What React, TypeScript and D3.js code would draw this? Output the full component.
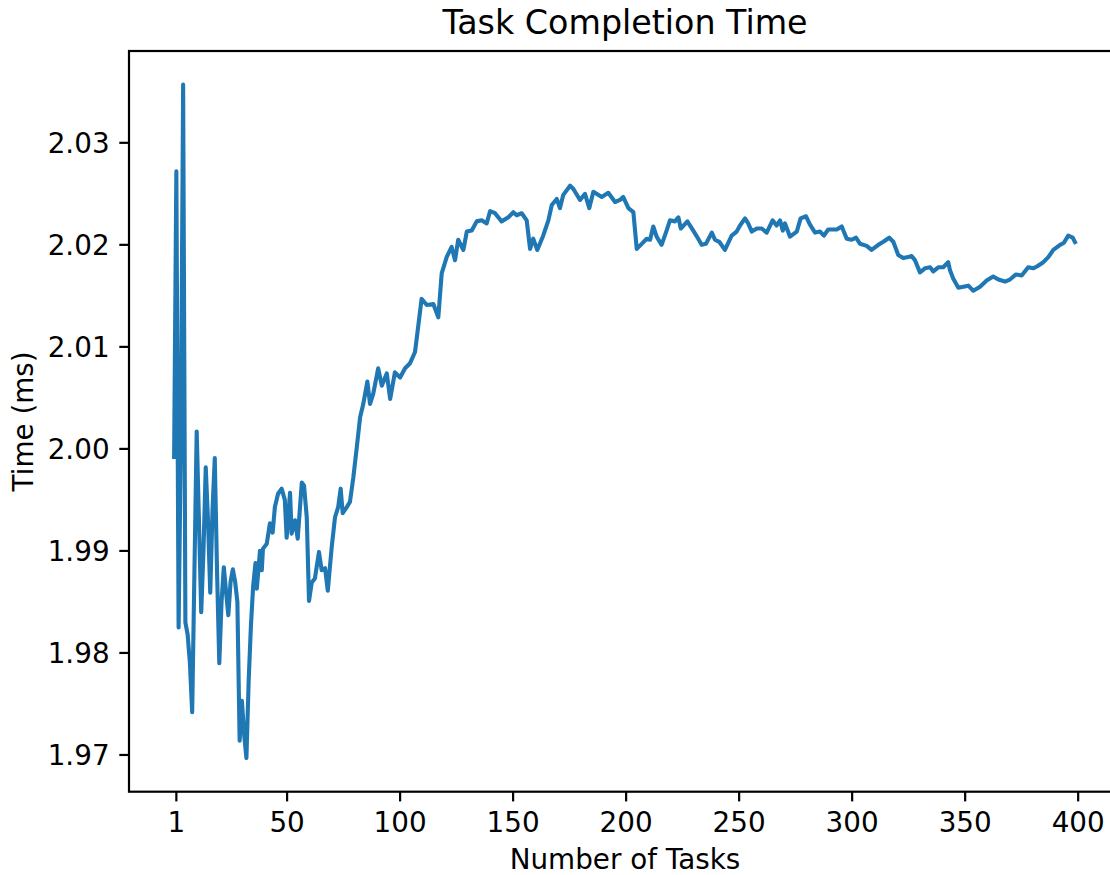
import React from "react";
import * as d3 from "d3";

// Task index (0-based) of each sampled point along the curve
const taskIndex: number[] = [
  0, 1, 2, 3, 4, 5, 6, 7, 8, 9, 10, 11, 12, 13, 14, 15, 16, 17, 18, 19,
  20, 21, 22, 23, 24, 25, 26, 27, 28, 29, 30, 31, 32, 33, 34, 35,
  36, 36.6, 38, 38.8, 39.3, 41, 42.4, 43.6, 44.6, 46, 47.6, 49, 49.8, 51.3,
  52, 53.5, 54.7, 56.5, 57.5, 58.7, 59.7, 60.9, 62.3, 64.1, 65.3, 66.8, 68,
  69.7, 71.2, 72.6, 73.7, 74.6, 76.4, 77.8, 79.3, 80.8, 82.3, 83.7, 85.5,
  86.7, 88.1, 90.3, 91.9, 94.1, 95.6, 97.7, 100, 102.2, 104.4, 106.6, 108,
  109.5, 111.8, 114.7, 116.9, 118.4, 120.6, 122.8, 124.3, 125.7, 128, 129.5,
  131.7, 133.9, 136.1, 138.3, 139.8, 142, 144.9, 147.9, 150.1, 151.6, 153.8,
  156, 157.5, 158.9, 160.7, 163.3, 165.6, 167.1, 169.3, 170.7, 172.2, 175.2,
  176.6, 179.6, 181.8, 183.7, 185.5, 189.2, 192.1, 195.1, 197.3, 198.7, 201,
  203.2, 204.7, 206.9, 209.1, 210.6, 212, 213.5, 215.7, 217.9, 219.4, 221.6,
  223.1, 224.2, 227.1, 229.7, 231.9, 233.4, 235.3, 237.9, 239.3, 241.2, 243.7,
  246.7, 248.9, 250.4, 252.6, 254, 255.6, 257.8, 260, 262.2, 264.8, 266.6,
  268.1, 269.3, 270.3, 272.5, 275.5, 277.2, 279.6, 281.3, 283.6, 285.8, 287.5,
  289.4, 293.2, 295.4, 297.6, 299.8, 301.7, 303.5, 306.4, 308.6, 311.6, 313.8,
  316.4, 318.2, 320.4, 322.6, 324.8, 326.3, 327.8, 330, 332.2, 334.5, 335.9,
  338.1, 340.3, 342.5, 343.3, 344.7, 347, 349.2, 351.4, 353.6, 356.6, 359.5,
  362.4, 364.7, 367.6, 369.8, 372.5, 375, 377.9, 380.1, 381.9, 384.6, 386.8,
  389, 392, 393.7, 395.6, 397.6, 399,
];

// Completion time (ms) at each task index above
const timeMs: number[] = [
  1.999, 2.0272, 1.9825, 2.001, 2.0357, 1.983, 1.9818, 1.979, 1.9742, 1.988,
  2.0017, 1.993, 1.984, 1.99, 1.9982, 1.993, 1.9859, 1.994, 1.9991, 1.988,
  1.979, 1.985, 1.9884, 1.986, 1.9837, 1.987, 1.9882, 1.987, 1.985, 1.9714,
  1.9753, 1.972, 1.9697, 1.9773, 1.9827, 1.9866,
  1.9888, 1.9863, 1.99, 1.9881, 1.9902, 1.9907, 1.9927, 1.9918, 1.9943, 1.9956,
  1.9961, 1.995, 1.9913, 1.9957, 1.9917, 1.993, 1.9912, 1.9967, 1.9964,
  1.9933, 1.9851, 1.9869, 1.9873, 1.9899, 1.9881, 1.9883, 1.9861, 1.9903,
  1.9933, 1.9943, 1.9961, 1.9937, 1.9943, 1.9948, 1.9972, 2.0001, 2.0031,
  2.0044, 2.0066, 2.0044, 2.0054, 2.0079, 2.0062, 2.0074, 2.0049, 2.0075,
  2.007, 2.0079, 2.0084, 2.0095, 2.012, 2.0147, 2.0141, 2.0142, 2.0129,
  2.0172, 2.0188, 2.0198, 2.0185, 2.0205, 2.0195, 2.0213, 2.0214, 2.0223,
  2.0224, 2.0221, 2.0233, 2.0231, 2.0223, 2.0227, 2.0232, 2.0229, 2.0231,
  2.0224, 2.0196, 2.0206, 2.0195, 2.0209, 2.0224, 2.0239, 2.0245, 2.0236,
  2.0249, 2.0258, 2.0255, 2.0244, 2.025, 2.0236, 2.0252, 2.0247, 2.0251,
  2.0242, 2.0244, 2.0247, 2.0236, 2.0232, 2.0196, 2.0201, 2.0206, 2.0205,
  2.0218, 2.0208, 2.02, 2.0214, 2.0224, 2.0223, 2.0227, 2.0216, 2.0223,
  2.0214, 2.0206, 2.02, 2.0201, 2.0212, 2.0205, 2.0203, 2.0195, 2.0209,
  2.0213, 2.0219, 2.0226, 2.0221, 2.0213, 2.0216, 2.0216, 2.0212, 2.0224,
  2.0219, 2.0224, 2.0214, 2.0221, 2.0208, 2.0213, 2.0226, 2.0228, 2.022,
  2.0212, 2.0213, 2.0209, 2.0215, 2.0215, 2.0218, 2.0206, 2.0205, 2.0207,
  2.0201, 2.0199, 2.0195, 2.02, 2.0203, 2.0207, 2.0203, 2.019, 2.0187,
  2.0188, 2.0189, 2.0185, 2.0173, 2.0177, 2.0178, 2.0174, 2.0178, 2.0178,
  2.0183, 2.0175, 2.0167, 2.0158, 2.0159, 2.016, 2.0155, 2.0159, 2.0165,
  2.0169, 2.0166, 2.0164, 2.0166, 2.0171, 2.017, 2.0178, 2.0177, 2.0179,
  2.0183, 2.0188, 2.0195, 2.02, 2.0202, 2.0209, 2.0207, 2.0201,
];

const xTicks: number[] = [1, 50, 100, 150, 200, 250, 300, 350, 400];
const yTicks: number[] = [1.97, 1.98, 1.99, 2.0, 2.01, 2.02, 2.03];

const titleText = "Task Completion Time";
const xLabelText = "Number of Tasks";
const yLabelText = "Time (ms)";

const W = 1110;
const H = 875;
const plot = { left: 129, right: 1121, top: 51, bottom: 791.7 };
const FONT = "'DejaVu Sans', sans-serif";
const TEXT = "#000";
const LINE = "#1f77b4";
const TICK_LEN = 9.7;
const TICK_PAD = 9.7;

export default function App() {
  const points = taskIndex.map((t, i) => ({ t, v: timeMs[i] }));
  const [vMin, vMax] = d3.extent(timeMs) as [number, number];
  const [tMin, tMax] = d3.extent(taskIndex) as [number, number];
  const xPad = (tMax - tMin) * 0.05;
  const yPad = (vMax - vMin) * 0.05;

  const x = d3
    .scaleLinear()
    .domain([tMin - xPad, tMax + xPad])
    .range([plot.left, plot.right]);
  const y = d3
    .scaleLinear()
    .domain([vMin - yPad, vMax + yPad])
    .range([plot.bottom, plot.top]);

  const path = d3
    .line<{ t: number; v: number }>()
    .x((d) => x(d.t))
    .y((d) => y(d.v))(points) as string;

  const cx = (plot.left + plot.right) / 2;
  const cy = (plot.top + plot.bottom) / 2;

  return (
    <svg
      width={W}
      height={H}
      viewBox={`0 0 ${W} ${H}`}
      style={{ position: "absolute", left: 0, top: 0, display: "block", background: "#fff" }}
    >
      <rect x={0} y={0} width={W} height={H} fill="#fff" />
      <defs>
        <clipPath id="plot-area">
          <rect
            x={plot.left}
            y={plot.top}
            width={plot.right - plot.left}
            height={plot.bottom - plot.top}
          />
        </clipPath>
      </defs>

      <path
        d={path}
        fill="none"
        stroke={LINE}
        strokeWidth={4.1}
        strokeLinejoin="round"
        strokeLinecap="butt"
        clipPath="url(#plot-area)"
      />

      {/* frame */}
      <rect
        x={plot.left}
        y={plot.top}
        width={plot.right - plot.left}
        height={plot.bottom - plot.top}
        fill="none"
        stroke={TEXT}
        strokeWidth={2.2}
      />

      {/* x axis ticks */}
      {xTicks.map((t) => (
        <g key={`x${t}`}>
          <line
            x1={x(t)}
            x2={x(t)}
            y1={plot.bottom}
            y2={plot.bottom + TICK_LEN}
            stroke={TEXT}
            strokeWidth={2.2}
          />
          <text
            x={x(t)}
            y={plot.bottom + TICK_LEN + TICK_PAD + 21}
            textAnchor="middle"
            fontFamily={FONT}
            fontSize={27.8}
            fill={TEXT}
          >
            {t}
          </text>
        </g>
      ))}

      {/* y axis ticks */}
      {yTicks.map((v) => (
        <g key={`y${v}`}>
          <line
            x1={plot.left - TICK_LEN}
            x2={plot.left}
            y1={y(v)}
            y2={y(v)}
            stroke={TEXT}
            strokeWidth={2.2}
          />
          <text
            x={plot.left - TICK_LEN - TICK_PAD}
            y={y(v) + 10}
            textAnchor="end"
            fontFamily={FONT}
            fontSize={27.8}
            fill={TEXT}
          >
            {v.toFixed(2)}
          </text>
        </g>
      ))}

      <text
        x={cx}
        y={34.3}
        textAnchor="middle"
        fontFamily={FONT}
        fontSize={33.3}
        fill={TEXT}
      >
        {titleText}
      </text>

      <text
        x={cx}
        y={869}
        textAnchor="middle"
        fontFamily={FONT}
        fontSize={27.8}
        fill={TEXT}
      >
        {xLabelText}
      </text>

      <text
        transform={`translate(32.5, ${cy}) rotate(-90)`}
        textAnchor="middle"
        fontFamily={FONT}
        fontSize={27.8}
        fill={TEXT}
      >
        {yLabelText}
      </text>
    </svg>
  );
}
